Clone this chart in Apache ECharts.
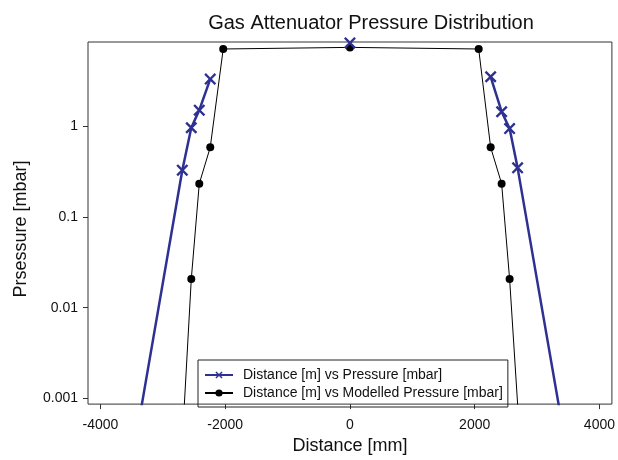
<!DOCTYPE html>
<html><head><meta charset="utf-8">
<script src="https://cdn.jsdelivr.net/npm/echarts@6/dist/echarts.min.js"></script>
<style>html,body{margin:0;padding:0;background:#fff}#c{width:618px;height:460px}</style>
</head><body><div id="c"></div>
<script>
// null entries split the measured series into separate (unconnected) pieces
const measuredDistance = [-3570, -2688, -2544, -2416, -2240, null, 0, null, 2256, 2432, 2560, 2688, 3580];
const measuredPressure = [0.0001, 0.33, 0.97, 1.52, 3.35, null, 8.4, null, 3.55, 1.46, 0.95, 0.35, 0.0001];
const modelDistance = [-2730, -2544, -2416, -2240, -2032, 0, 2064, 2256, 2432, 2560, 2775];
const modelPressure = [0.0001, 0.0207, 0.234, 0.59, 7.2, 7.5, 7.2, 0.59, 0.234, 0.0207, 0.0001];
const xTicks = [-4000, -2000, 0, 2000, 4000];
const yTicks = [0.001, 0.01, 0.1, 1];

const font = 'Liberation Sans, Arial, sans-serif';
const chart = echarts.init(document.getElementById('c'));
const xPath = 'path://M0,1.4L1.4,0L5,3.6L8.6,0L10,1.4L6.4,5L10,8.6L8.6,10L5,6.4L1.4,10L0,8.6L3.6,5Z';
chart.setOption({
  animation: false,
  backgroundColor: '#fff',
  title: {
    text: 'Gas Attenuator Pressure Distribution',
    left: 366, top: 8, textAlign: 'center',
    textStyle: {fontFamily: font, fontSize: 20, fontWeight: 'normal', color: '#111'}
  },
  grid: {left: 88, right: 5, top: 42, bottom: 50, show: true, borderColor: '#333', borderWidth: 1},
  legend: {
    orient: 'vertical', left: 198, top: 360,
    borderColor: '#222', borderWidth: 1, padding: [8, 5, 7, 6], itemGap: 4,
    itemWidth: 28, itemHeight: 9,
    textStyle: {fontFamily: font, fontSize: 14, color: '#111', padding: [0, 0, 0, 5]},
    data: ['Distance [m] vs Pressure [mbar]', 'Distance [m] vs Modelled Pressure [mbar]']
  },
  xAxis: {
    type: 'value', min: -4200, max: 4200,
    name: 'Distance [mm]', nameLocation: 'middle', nameGap: 32,
    nameTextStyle: {fontFamily: font, fontSize: 18, color: '#111'},
    axisLine: {show: false, onZero: false},
    axisTick: {show: true, customValues: xTicks, length: 5, lineStyle: {color: '#333'}},
    axisLabel: {customValues: xTicks, fontFamily: font, fontSize: 14, color: '#111', margin: 14,
      formatter: v => String(v)},
    splitLine: {show: false}
  },
  yAxis: {
    type: 'log', min: 0.00086, max: 8.6,
    name: 'Prsessure [mbar]', nameLocation: 'middle', nameGap: 58,
    nameTextStyle: {fontFamily: font, fontSize: 18, color: '#111', padding: [0, 12, 0, 0]},
    axisLine: {show: false, onZero: false},
    axisTick: {show: true, customValues: yTicks, length: 5, lineStyle: {color: '#333'}},
    axisLabel: {customValues: yTicks, fontFamily: font, fontSize: 14, color: '#111', margin: 10,
      formatter: v => String(v)},
    splitLine: {show: false}
  },
  series: [
    {
      name: 'Distance [m] vs Pressure [mbar]', type: 'line',
      data: measuredDistance.map((d, i) => d === null ? [null, null] : [d, measuredPressure[i]]),
      connectNulls: false,
      symbol: xPath, symbolSize: 12, showAllSymbol: true,
      lineStyle: {color: '#2e3192', width: 2.5},
      itemStyle: {color: '#2e3192'},
      clip: true, z: 3
    },
    {
      name: 'Distance [m] vs Modelled Pressure [mbar]', type: 'line',
      data: modelDistance.map((d, i) => [d, modelPressure[i]]),
      symbol: 'circle', symbolSize: 8, showAllSymbol: true,
      lineStyle: {color: '#000', width: 1},
      itemStyle: {color: '#000'},
      clip: true, z: 2
    }
  ]
});
</script></body></html>
